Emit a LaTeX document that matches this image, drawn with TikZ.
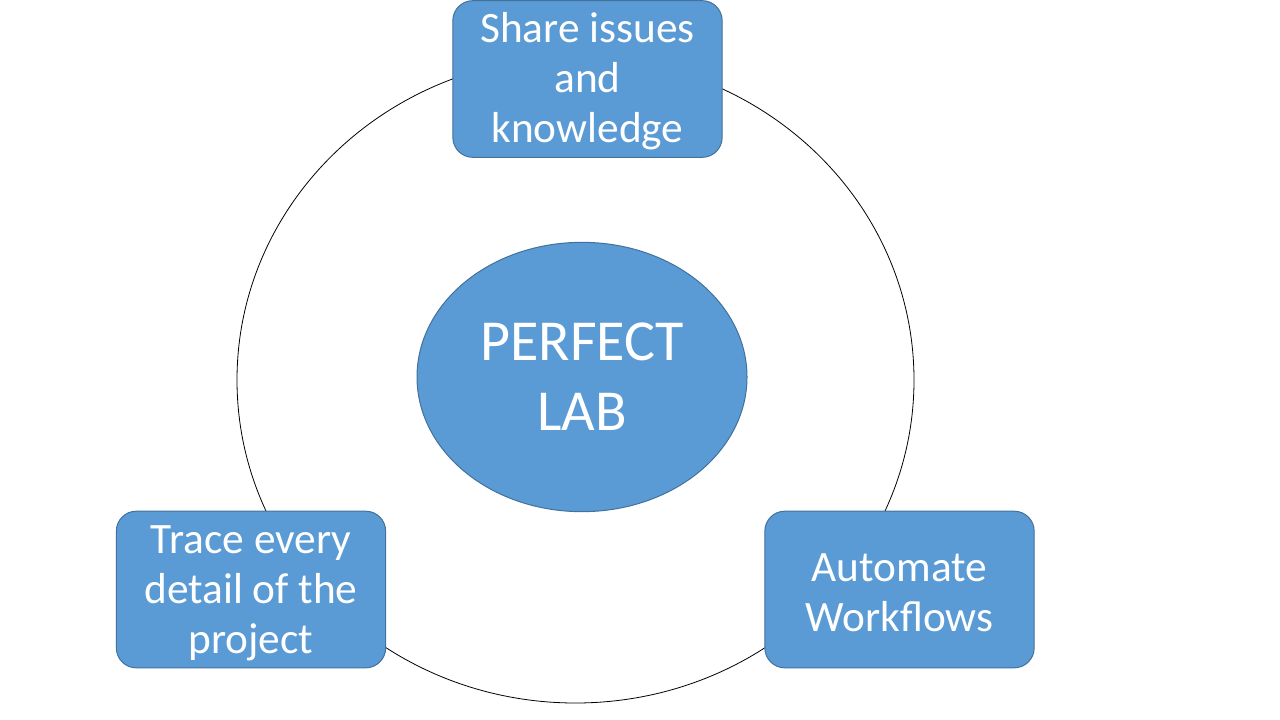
\documentclass[tikz,border=0pt]{standalone}
\usepackage{fontspec}
\setmainfont{Carlito}
\usetikzlibrary{shapes.geometric}
\definecolor{boxfill}{HTML}{5B9BD5}
\definecolor{boxline}{HTML}{41719C}
\tikzset{
  topic/.style={draw=boxline, fill=boxfill, line width=0.75pt, rounded corners=15pt,
    minimum width=202pt, minimum height=117.5pt, text=white, align=center,
    font=\fontsize{32.5}{37.5}\selectfont, inner sep=0pt},
  core/.style={ellipse, draw=boxline, fill=boxfill, line width=0.75pt,
    minimum width=247.5pt, minimum height=202pt, text=white, align=center,
    font=\fontsize{43.5}{52.5}\selectfont, inner sep=0pt},
  ring/.style={draw=black, line width=0.6pt}
}
\begin{document}
\begin{tikzpicture}[x=0.75pt, y=-0.75pt]
\useasboundingbox (0,0) rectangle (1280,720);
\draw[ring] (575.5,380) ellipse [x radius=338.5, y radius=323];
\node[core] (lab) at (582,377) {PERFECT\\LAB};
\node[topic] (share) at (587.5,79) {\strut Share issues\\and\\knowledge};
\node[topic] (trace) at (251,589.5) {\strut Trace every\\detail of the\\project};
\node[topic] (auto) at (899.5,589.5) {\strut Automate\\Workflows};
\end{tikzpicture}
\end{document}
